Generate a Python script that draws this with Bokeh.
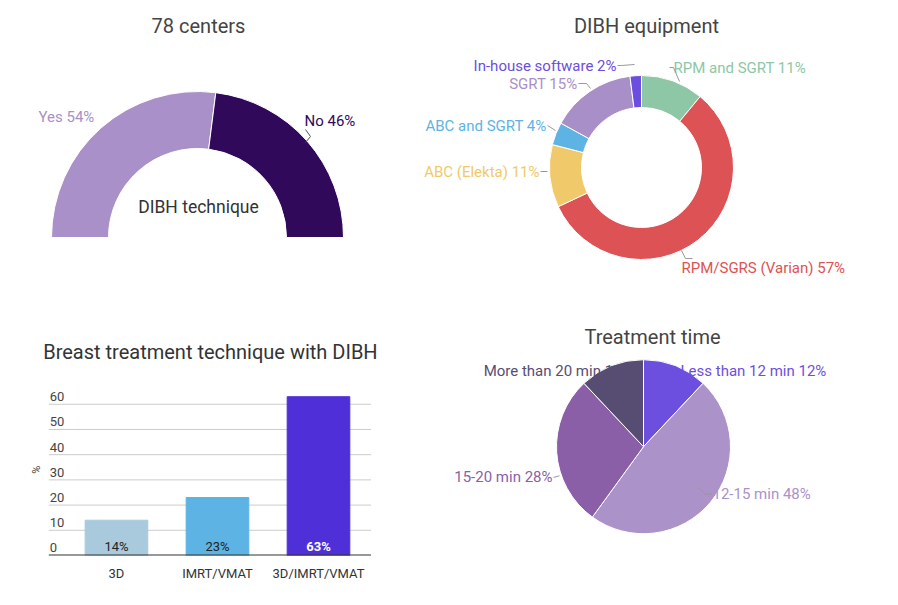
import numpy as np
from bokeh.plotting import figure
from bokeh.layouts import column, row
from bokeh.models import FixedTicker
from bokeh.embed import file_html
from bokeh.resources import INLINE
from bokeh.core.properties import value

FONT = "Roboto"
# ---- data ----
gauge_labels = ["Yes", "No"]
gauge_values = [54, 46]
gauge_colors = ["#a990c8", "#31095a"]

equip_labels = ["RPM and SGRT", "RPM/SGRS (Varian)", "ABC (Elekta)", "ABC and SGRT", "SGRT", "In-house software"]
equip_values = [11, 57, 11, 4, 15, 2]
equip_colors = ["#8ec7a5", "#dd5254", "#f0c96a", "#5db4e4", "#a98fc8", "#6b4edf"]

bar_cats = ["3D", "IMRT/VMAT", "3D/IMRT/VMAT"]
bar_values = [14, 23, 63]
bar_colors = ["#a9c9dc", "#5db4e4", "#4f2fd8"]
y_ticks = [0, 10, 20, 30, 40, 50, 60]

time_labels = ["Less than 12 min", "12-15 min", "15-20 min", "More than 20 min"]
time_values = [12, 48, 28, 12]
time_colors = ["#6d4fe0", "#ab92c8", "#8a5fa8", "#574d73"]


def blank(w, h):
    p = figure(width=w, height=h, x_range=(0, w), y_range=(0, h), output_backend="svg",
               toolbar_location=None, min_border=0)
    p.axis.visible = False
    p.grid.visible = False
    p.outline_line_color = None
    return p


def txt(p, x, y, t, color, size="15px", align="left", style="normal"):
    p.text([x], [y], text=[t], text_color=color, text_font=value(FONT), text_font_size=size,
           text_align=align, text_baseline="middle", text_font_style=style)


lc = "#999999"
# ---- top-left gauge ----
tl = blank(418, 310)
cum = np.cumsum([0] + gauge_values)
tl.annular_wedge(x=197, y=73, inner_radius=89, outer_radius=146,
                 start_angle=[np.pi - np.pi * c / 100 for c in cum[:-1]],
                 end_angle=[np.pi - np.pi * c / 100 for c in cum[1:]],
                 direction="clock", color=gauge_colors, line_color="white", line_width=1)
txt(tl, 198, 285, "78 centers", "#444444", "20px", "center")
txt(tl, 38, 194, f"{gauge_labels[0]} {gauge_values[0]}%", gauge_colors[0])
txt(tl, 304, 190, f"{gauge_labels[1]} {gauge_values[1]}%", gauge_colors[1])
tl.line([305, 310, 305], [181, 174, 168], line_color="#555555", line_width=1)
txt(tl, 198, 104, "DIBH technique", "#333333", "17.5px", "center")

# ---- top-right donut ----
tr = blank(480, 310)
cum = np.cumsum([0] + equip_values)
tr.annular_wedge(x=223, y=143, inner_radius=60, outer_radius=92,
                 start_angle=[np.pi / 2 - 2 * np.pi * c / 100 for c in cum[:-1]],
                 end_angle=[np.pi / 2 - 2 * np.pi * c / 100 for c in cum[1:]],
                 direction="clock", color=equip_colors, line_color="white", line_width=1)
txt(tr, 255, 243, f"{equip_labels[0]} {equip_values[0]}%", equip_colors[0])
txt(tr, 263, 43, f"{equip_labels[1]} {equip_values[1]}%", equip_colors[1])
txt(tr, 121, 139, f"{equip_labels[2]} {equip_values[2]}%", equip_colors[2], align="right")
txt(tr, 128, 185, f"{equip_labels[3]} {equip_values[3]}%", equip_colors[3], align="right")
txt(tr, 159, 227, f"{equip_labels[4]} {equip_values[4]}%", equip_colors[4], align="right")
txt(tr, 198, 245, f"{equip_labels[5]} {equip_values[5]}%", equip_colors[5], align="right")
tr.line([251, 255, 261], [243, 243, 229], line_color=lc)
tr.line([274, 267, 263], [52, 52, 60], line_color=lc)
tr.line([122, 129], [139, 139], line_color=lc)
tr.line([129, 137], [185, 180], line_color=lc)
tr.line([160, 168, 172], [227, 227, 222], line_color=lc)
tr.line([199, 203, 216], [245, 245, 246], line_color=lc)
txt(tr, 228, 285, "DIBH equipment", "#444444", "20px", "center")

# ---- bottom-left bars ----
bl = figure(width=418, height=295, x_range=(-0.950, 2.990), y_range=(0, 97.2),
            output_backend="svg", toolbar_location=None,
            min_border_left=20, min_border_right=0, min_border_top=0, min_border_bottom=50)
bl.outline_line_color = None
bl.grid.visible = False
bl.yaxis.visible = False
bl.xaxis.ticker = FixedTicker(ticks=[0, 1, 2])
bl.xaxis.major_label_overrides = {i: c for i, c in enumerate(bar_cats)}
bl.xaxis.axis_line_color = None
bl.xaxis.major_tick_line_color = None
bl.xaxis.minor_tick_line_color = None
bl.xaxis.major_label_text_font = FONT
bl.xaxis.major_label_text_font_size = "13px"
bl.xaxis.major_label_text_color = "#333333"
bl.xaxis.major_label_standoff = 4
xs = list(range(len(bar_cats)))
bl.segment(x0=-0.67, x1=2.52, y0=y_ticks[1:], y1=y_ticks[1:], line_color="#cccccc", line_width=1)
bl.vbar(x=xs, top=bar_values, width=0.62, color=bar_colors)
bl.segment(x0=[-0.67], x1=[2.52], y0=[0], y1=[0], line_color="#333333", line_width=2)
bl.text(x=[-0.66] * len(y_ticks), y=[t + 1.2 for t in y_ticks], text=[str(t) for t in y_ticks],
        text_font=value(FONT), text_font_size="13px", text_color="#444444", text_baseline="bottom")
bl.text(x=xs, y=[3.6] * 3, text=[f"{v}%" for v in bar_values], text_align="center",
        text_baseline="middle", text_font=value(FONT), text_font_size="13px",
        text_color=["#222222", "#222222", "#ffffff"], text_font_style=["normal", "normal", "bold"])
bl.text(x=[-0.79], y=[34], text=["%"], angle=np.pi / 2, text_align="center", text_baseline="middle",
        text_font=value(FONT), text_font_size="11px", text_color="#444444")
bl.text(x=[0.93], y=[80.6], text=["Breast treatment technique with DIBH"], text_align="center",
        text_baseline="middle", text_font=value(FONT), text_font_size="20px", text_color="#333333")

# ---- bottom-right pie ----
br = blank(480, 295)
cum = np.cumsum([0] + time_values)
br.wedge(x=225, y=131, radius=87,
         start_angle=[np.pi / 2 - 2 * np.pi * c / 100 for c in cum[:-1]],
         end_angle=[np.pi / 2 - 2 * np.pi * c / 100 for c in cum[1:]],
         direction="clock", color=time_colors, line_color="white", line_width=1)
txt(br, 262, 222, f"{time_labels[0]} {time_values[0]}%", time_colors[0])
txt(br, 294, 74, f"{time_labels[1]} {time_values[1]}%", time_colors[1])
txt(br, 134, 94, f"{time_labels[2]} {time_values[2]}%", time_colors[2], align="right")
txt(br, 214, 222, f"{time_labels[3]} {time_values[3]}%", time_colors[3], align="right")
br.line([293, 287, 279], [74, 74, 82], line_color=lc)
br.line([135, 141], [94, 96], line_color=lc)
txt(br, 234, 263, "Treatment time", "#444444", "20px", "center")

layout = column(row(tl, tr), row(bl, br))
open("out.html", "w").write(file_html(layout, INLINE))
